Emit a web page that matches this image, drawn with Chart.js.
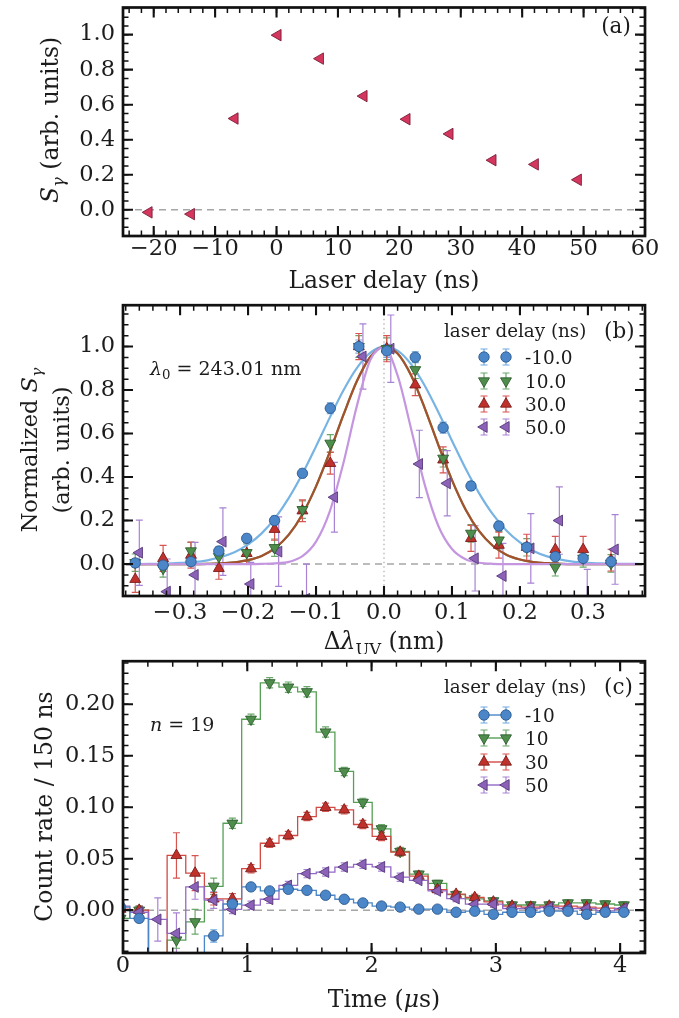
<!DOCTYPE html>
<html>
<head>
<meta charset="utf-8">
<script src="https://cdn.jsdelivr.net/npm/chart.js@4.4.1/dist/chart.umd.min.js"></script>
<style>
  html, body { margin:0; padding:0; background:#ffffff; }
  #wrap { position:relative; width:679px; height:1018px; overflow:hidden; background:#fff; }
  canvas { position:absolute; left:0; }
</style>
</head>
<body>
<div id="wrap">
  <canvas id="chartA" width="679" height="298" style="top:0px;width:679px;height:298px"></canvas>
  <canvas id="chartB" width="679" height="356" style="top:298px;width:679px;height:356px"></canvas>
  <canvas id="chartC" width="679" height="364" style="top:654px;width:679px;height:364px"></canvas>
</div>
<script>
// ---------------- DATA ----------------
// Panel (a)
const delayA  = [-20.8, -13.9, -6.8, 0.2, 7.1, 14.2, 21.2, 28.2, 35.2, 42.1, 49.1];
const signalA = [-0.015, -0.025, 0.521, 0.997, 0.863, 0.649, 0.517, 0.433, 0.283, 0.259, 0.171];
const xTicksA = [-20, -10, 0, 10, 20, 30, 40, 50, 60];
const yTicksA = [0.0, 0.2, 0.4, 0.6, 0.8, 1.0];

// Panel (b)
const seriesNamesB = ['-10.0', '10.0', '30.0', '50.0'];
const dLambda   = [-0.366,-0.325,-0.284,-0.243,-0.202,-0.161,-0.120,-0.079,-0.037,0.004,0.046,0.087,0.128,0.169,0.210,0.252,0.293,0.334];
const dLambda50 = [-0.360,-0.319,-0.278,-0.237,-0.196,-0.155,-0.114,-0.073,-0.031,0.010,0.052,0.093,0.134,0.175,0.216,0.258,0.299,0.340];
const specM10 = [0.005,-0.005,0.011,0.060,0.118,0.200,0.417,0.716,1.000,0.980,0.951,0.627,0.359,0.175,0.077,0.034,0.026,0.011];
const spec10  = [0.006,-0.020,0.060,0.034,0.052,0.075,0.250,0.555,1.000,0.990,0.893,0.486,0.141,0.110,0.077,-0.015,0.026,0.003];
const spec30  = [-0.070,0.026,0.041,-0.020,0.049,0.160,0.245,0.463,1.000,0.990,0.824,0.479,0.118,0.087,0.077,0.067,0.067,0.018];
const spec50  = [0.052,-0.127,-0.050,0.103,-0.092,0.057,-0.160,0.307,0.954,0.990,0.460,0.371,0.026,-0.055,0.072,0.200,-0.180,0.067];
const errBm10 = [0.02,0.02,0.02,0.02,0.02,0.02,0.02,0.025,0.03,0.03,0.025,0.025,0.02,0.02,0.02,0.02,0.02,0.02];
const errB10  = [0.04,0.04,0.04,0.04,0.04,0.04,0.04,0.04,0.05,0.05,0.04,0.04,0.04,0.04,0.04,0.04,0.04,0.04];
const errB30  = [0.06,0.06,0.06,0.05,0.05,0.05,0.05,0.05,0.06,0.06,0.05,0.06,0.06,0.06,0.06,0.06,0.06,0.05];
const errB50  = [0.15,0.15,0.15,0.155,0.10,0.16,0.16,0.16,0.15,0.155,0.155,0.15,0.15,0.15,0.16,0.155,0.155,0.16];
// fitted curves
const xFit = [-0.38,-0.36,-0.34,-0.32,-0.30,-0.28,-0.26,-0.24,-0.22,-0.20,-0.18,-0.16,-0.14,-0.12,-0.10,-0.08,-0.06,-0.04,-0.02,0.00,0.02,0.04,0.06,0.08,0.10,0.12,0.14,0.16,0.18,0.20,0.22,0.24,0.26,0.28,0.30,0.32,0.34,0.36,0.38];
const fitM10 = [0.000,0.000,0.001,0.002,0.005,0.009,0.017,0.032,0.054,0.090,0.141,0.212,0.304,0.415,0.541,0.672,0.797,0.901,0.972,1.000,0.981,0.918,0.820,0.698,0.567,0.439,0.325,0.229,0.154,0.099,0.060,0.035,0.020,0.010,0.005,0.003,0.001,0.001,0.000];
const fit10  = [0,0,0,0,0.000,0.000,0.001,0.003,0.008,0.018,0.037,0.074,0.135,0.229,0.357,0.513,0.683,0.840,0.953,1.000,0.968,0.867,0.716,0.547,0.386,0.251,0.151,0.084,0.043,0.021,0.009,0.004,0.001,0.000,0,0,0,0,0];
const fit30  = [0,0,0,0,0.000,0.000,0.001,0.003,0.008,0.018,0.037,0.074,0.135,0.229,0.357,0.513,0.683,0.840,0.953,1.000,0.968,0.867,0.716,0.547,0.386,0.251,0.151,0.084,0.043,0.021,0.009,0.004,0.001,0.000,0,0,0,0,0];
const fit50  = [0,0,0,0,0,0,0,0,0,0.000,0.001,0.003,0.010,0.036,0.103,0.240,0.461,0.726,0.939,0.996,0.867,0.620,0.364,0.175,0.069,0.022,0.006,0.001,0.000,0,0,0,0,0,0,0,0,0,0];
const xTicksB = [-0.3, -0.2, -0.1, 0.0, 0.1, 0.2, 0.3];
const yTicksB = [0.0, 0.2, 0.4, 0.6, 0.8, 1.0];

// Panel (c)
const seriesNamesC = ['-10', '10', '30', '50'];
const tBins = [-0.02,0.13,0.28,0.43,0.58,0.73,0.88,1.03,1.18,1.33,1.48,1.63,1.78,1.93,2.08,2.23,2.38,2.53,2.68,2.83,2.98,3.13,3.28,3.43,3.58,3.73,3.88,4.03];
const rateM10 = [0.003,-0.008,-0.060,-0.080,-0.060,-0.025,0.006,0.0226,0.0187,0.0203,0.0193,0.0145,0.0106,0.007,0.004,0.003,0.001,0.001,-0.002,-0.001,-0.004,-0.002,-0.002,-0.001,-0.001,-0.004,-0.002,-0.002];
const rate10  = [-0.008,0.000,-0.060,-0.029,-0.0113,0.0232,0.0844,0.1854,0.2208,0.2166,0.2121,0.173,0.1347,0.1047,0.079,0.057,0.035,0.026,0.015,0.011,0.009,0.005,0.005,0.005,0.007,0.007,0.006,0.005];
const rate30  = [0.001,0.000,-0.080,0.0532,0.036,0.011,0.011,0.0403,0.065,0.0725,0.0909,0.0999,0.0974,0.0832,0.0716,0.0564,0.033,0.020,0.0155,0.0123,0.008,0.004,0.003,0.004,0.004,0.003,0.002,0.001];
const rate50  = [0.004,-0.002,-0.009,-0.0226,0.0226,0.0097,0.0007,0.0048,0.0106,0.024,0.0355,0.037,0.0419,0.0445,0.042,0.032,0.029,0.0187,0.0113,0.0058,0.0058,0.0016,0.0016,0.0026,0.0016,0.0016,-0.0006,0.0016];
const errCm10 = [0.004,0.004,0.008,0.008,0.008,0.006,0.004,0.003,0.003,0.003,0.003,0.003,0.003,0.002,0.002,0.002,0.002,0.002,0.002,0.002,0.002,0.002,0.002,0.002,0.002,0.002,0.002,0.002];
const errC10  = [0.004,0.004,0.012,0.008,0.012,0.008,0.005,0.005,0.005,0.005,0.005,0.005,0.004,0.004,0.004,0.004,0.003,0.003,0.003,0.003,0.003,0.003,0.003,0.003,0.003,0.003,0.003,0.003];
const errC30  = [0.004,0.004,0.020,0.022,0.017,0.006,0.005,0.004,0.004,0.004,0.004,0.004,0.004,0.004,0.004,0.004,0.003,0.003,0.003,0.003,0.003,0.003,0.003,0.003,0.003,0.003,0.003,0.003];
const errC50  = [0.006,0.006,0.021,0.020,0.012,0.008,0.004,0.004,0.004,0.004,0.004,0.004,0.004,0.004,0.004,0.004,0.003,0.003,0.003,0.003,0.003,0.003,0.003,0.003,0.003,0.003,0.003,0.003];
const xTicksC = [0, 1, 2, 3, 4];
const yTicksC = [0.00, 0.05, 0.10, 0.15, 0.20];

// ---------------- STYLE ----------------
const FONT = "'DejaVu Serif','Liberation Serif',serif";
const INK = '#1c1c1c';
const TICK_SIZE = 22.5;
const STY = {
  m10: { fill:'#4a86c8', edge:'#2c5a8e', err:'#6ea8e0', line:'#4a86c8', fit:'#78b4e3', shape:'circle', rot:0, r:5.2 },
  p10: { fill:'#4e8d4c', edge:'#2f5e2e', err:'#6aa86a', line:'#56a056', fit:'#5f9450', shape:'triangle', rot:180, r:6.3 },
  p30: { fill:'#c0312c', edge:'#7a1c1a', err:'#d65550', line:'#d24a44', fit:'rgba(176,72,40,0.88)', shape:'triangle', rot:0, r:6.3 },
  p50: { fill:'#8c62b8', edge:'#573a7a', err:'#a883d4', line:'#9468c6', fit:'#c596e0', shape:'triangle', rot:270, r:6.3 }
};

Chart.defaults.font.family = FONT;
Chart.defaults.color = INK;

const pts = (xs, ys) => xs.map((x, i) => ({ x: x, y: ys[i] }));
const fmtNum = d => v => (v < -1e-9 ? '\u2212' + Math.abs(v).toFixed(d) : Math.abs(v).toFixed(d));

function axisX(min, max, ticksArr, fmt, pad, h) {
  return {
    type: 'linear', min: min, max: max,
    grid: { display: false, drawTicks: false }, border: { display: false },
    ticks: { font: { family: FONT, size: TICK_SIZE }, color: INK, padding: pad, maxRotation: 0, autoSkip: false, callback: fmt },
    afterBuildTicks: s => { s.ticks = ticksArr.map(v => ({ value: v })); },
    afterFit: s => { s.height = h; s.paddingLeft = 0; s.paddingRight = 0; s.paddingTop = 0; s.paddingBottom = 0; }
  };
}
function axisY(min, max, ticksArr, fmt, pad, w) {
  return {
    type: 'linear', min: min, max: max,
    grid: { display: false, drawTicks: false }, border: { display: false },
    ticks: { font: { family: FONT, size: TICK_SIZE }, color: INK, padding: pad, autoSkip: false, callback: fmt },
    afterBuildTicks: s => { s.ticks = ticksArr.map(v => ({ value: v })); },
    afterFit: s => { s.width = w; s.paddingLeft = 0; s.paddingRight = 0; s.paddingTop = 0; s.paddingBottom = 0; }
  };
}

function markerPath(ctx, shape, x, y, r, rot) {
  ctx.beginPath();
  if (shape === 'circle') { ctx.arc(x, y, r, 0, Math.PI * 2); }
  else {
    let rad = rot * Math.PI / 180;
    for (let k = 0; k < 3; k++) {
      const px = x + Math.sin(rad) * r, py = y - Math.cos(rad) * r;
      if (k) ctx.lineTo(px, py); else ctx.moveTo(px, py);
      rad += 2 * Math.PI / 3;
    }
    ctx.closePath();
  }
}

function richText(ctx, x, y, segs, size, align, rot) {
  ctx.save();
  ctx.translate(x, y);
  if (rot) ctx.rotate(rot);
  const parts = segs.map(s => {
    const sz = s.sub ? size * 0.7 : size;
    const font = (s.it ? 'italic ' : '') + sz.toFixed(1) + 'px ' + FONT;
    ctx.font = font;
    return { t: s.t, font: font, w: ctx.measureText(s.t).width, dy: s.sub ? size * 0.22 : 0 };
  });
  const total = parts.reduce((a, p) => a + p.w, 0);
  let cx = align === 'center' ? -total / 2 : (align === 'right' ? -total : 0);
  ctx.fillStyle = INK; ctx.textBaseline = 'alphabetic'; ctx.textAlign = 'left';
  const base = size * 0.36;
  parts.forEach(p => { ctx.font = p.font; ctx.fillText(p.t, cx, base + p.dy); cx += p.w; });
  ctx.restore();
}

function multiples(min, max, step) {
  const out = [];
  const s = Math.ceil(min / step - 1e-9), e = Math.floor(max / step + 1e-9);
  for (let i = s; i <= e; i++) out.push(i * step);
  return out;
}

function drawFrame(chart, spec) {
  const { ctx, chartArea: a, scales: { x, y } } = chart;
  ctx.save();
  ctx.strokeStyle = '#111';
  const drawX = (vals, len, lw) => {
    ctx.lineWidth = lw; ctx.beginPath();
    vals.forEach(v => { const p = x.getPixelForValue(v);
      ctx.moveTo(p, a.bottom); ctx.lineTo(p, a.bottom - len);
      ctx.moveTo(p, a.top); ctx.lineTo(p, a.top + len); });
    ctx.stroke();
  };
  const drawY = (vals, len, lw) => {
    ctx.lineWidth = lw; ctx.beginPath();
    vals.forEach(v => { const p = y.getPixelForValue(v);
      ctx.moveTo(a.left, p); ctx.lineTo(a.left + len, p);
      ctx.moveTo(a.right, p); ctx.lineTo(a.right - len, p); });
    ctx.stroke();
  };
  drawX(multiples(x.min, x.max, spec.xMinor), 5.5, 1.5);
  drawY(multiples(y.min, y.max, spec.yMinor), 5.5, 1.5);
  drawX(spec.xMajor, 10, 2.1);
  drawY(spec.yMajor, 10, 2.1);
  ctx.lineWidth = 2.7;
  ctx.strokeRect(a.left, a.top, a.right - a.left, a.bottom - a.top);
  ctx.restore();
}

function underlay(chart, opts) {
  const { ctx, chartArea: a, scales: { x, y } } = chart;
  ctx.save();
  ctx.beginPath(); ctx.rect(a.left, a.top, a.right - a.left, a.bottom - a.top); ctx.clip();
  const y0 = y.getPixelForValue(0);
  ctx.strokeStyle = '#a6a6a6'; ctx.lineWidth = 1.5; ctx.setLineDash([7, 5]);
  ctx.beginPath(); ctx.moveTo(a.left, y0); ctx.lineTo(a.right, y0); ctx.stroke();
  if (opts && opts.vline) {
    const x0 = x.getPixelForValue(0);
    ctx.strokeStyle = '#b4b4b4'; ctx.lineWidth = 1.3; ctx.setLineDash([1.5, 3]);
    ctx.beginPath(); ctx.moveTo(x0, a.top); ctx.lineTo(x0, a.bottom); ctx.stroke();
  }
  ctx.setLineDash([]);
  chart.data.datasets.forEach(ds => {
    if (!ds.errors) return;
    ctx.strokeStyle = ds.errorColor; ctx.lineWidth = 1.2;
    ctx.beginPath();
    ds.data.forEach((p, j) => {
      const e = ds.errors[j]; if (!e) return;
      const px = x.getPixelForValue(p.x);
      const y1 = y.getPixelForValue(p.y - e), y2 = y.getPixelForValue(p.y + e);
      ctx.moveTo(px, y1); ctx.lineTo(px, y2);
      ctx.moveTo(px - 3.5, y1); ctx.lineTo(px + 3.5, y1);
      ctx.moveTo(px - 3.5, y2); ctx.lineTo(px + 3.5, y2);
    });
    ctx.stroke();
  });
  ctx.restore();
}

function drawLegend(ctx, off, L) {
  richText(ctx, L.titleX, L.titleY - off, [{ t: 'laser delay (ns)' }], 18.3, 'left');
  richText(ctx, L.tagX, L.titleY - off, [{ t: L.tag }], 21.5, 'left');
  L.keys.forEach((k, i) => {
    const s = STY[k];
    const yy = L.rows[i] - off;
    ctx.save();
    if (L.withLine) {
      ctx.strokeStyle = s.line; ctx.lineWidth = 1.4;
      ctx.beginPath(); ctx.moveTo(L.x1, yy); ctx.lineTo(L.x2, yy); ctx.stroke();
    }
    [L.x1, L.x2].forEach(xx => {
      ctx.strokeStyle = s.err; ctx.lineWidth = 1.2;
      ctx.beginPath();
      ctx.moveTo(xx, yy - 8); ctx.lineTo(xx, yy + 8);
      ctx.moveTo(xx - 3.5, yy - 8); ctx.lineTo(xx + 3.5, yy - 8);
      ctx.moveTo(xx - 3.5, yy + 8); ctx.lineTo(xx + 3.5, yy + 8);
      ctx.stroke();
      markerPath(ctx, s.shape, xx, yy, s.r, s.rot);
      ctx.fillStyle = s.fill; ctx.fill();
      ctx.strokeStyle = s.edge; ctx.lineWidth = 0.9; ctx.stroke();
    });
    ctx.restore();
    richText(ctx, L.textX, yy, [{ t: L.names[i] }], 18.5, 'left');
  });
}

function markerDS(xs, ys, errs, key, extra) {
  const s = STY[key];
  return Object.assign({
    data: pts(xs, ys), errors: errs, errorColor: s.err,
    showLine: false, pointStyle: s.shape, rotation: s.rot, pointRadius: s.r,
    pointBackgroundColor: s.fill, pointBorderColor: s.edge, pointBorderWidth: 0.9,
    borderColor: s.line, order: 0
  }, extra || {});
}
function fitDS(ys, key, color) {
  return {
    data: pts(xFit, ys), showLine: true, pointRadius: 0, borderColor: color || STY[key].fit,
    borderWidth: 2.2, cubicInterpolationMode: 'monotone', fill: false, order: 5
  };
}

const common = {
  type: 'line',
  options: { responsive: false, animation: false, devicePixelRatio: 1, events: [],
    plugins: { legend: { display: false }, tooltip: { enabled: false }, title: { display: false } } }
};

// ---------------- PANEL (a) ----------------
new Chart(document.getElementById('chartA'), {
  type: 'line',
  data: { datasets: [{
    data: pts(delayA, signalA), showLine: false, pointStyle: 'triangle', rotation: 270, pointRadius: 6.6,
    pointBackgroundColor: '#d4365e', pointBorderColor: '#7a1d38', pointBorderWidth: 0.9
  }] },
  options: Object.assign({}, common.options, {
    layout: { padding: { left: 0, right: 34, top: 4, bottom: 0 } },
    scales: { x: axisX(-25, 60, xTicksA, fmtNum(0), 0, 62), y: axisY(-0.15, 1.155, yTicksA, fmtNum(1), 8, 123) }
  }),
  plugins: [{
    id: 'decoA',
    beforeDatasetsDraw: c => underlay(c, {}),
    afterDraw: c => {
      drawFrame(c, { xMajor: xTicksA, xMinor: 2, yMajor: yTicksA, yMinor: 0.05 });
      const ctx = c.ctx;
      richText(ctx, 50, 120, [{ t: 'S', it: true }, { t: '\u03b3', it: true, sub: true }, { t: ' (arb. units)' }], 23.5, 'center', -Math.PI / 2);
      richText(ctx, 384, 280, [{ t: 'Laser delay (ns)' }], 23.5, 'center');
      richText(ctx, 616, 25, [{ t: '(a)' }], 21.5, 'center');
    }
  }]
});

// ---------------- PANEL (b) ----------------
const offB = 298;
new Chart(document.getElementById('chartB'), {
  type: 'line',
  data: { datasets: [
    markerDS(dLambda, specM10, errBm10, 'm10'),
    markerDS(dLambda, spec10, errB10, 'p10'),
    markerDS(dLambda, spec30, errB30, 'p30'),
    markerDS(dLambda50, spec50, errB50, 'p50'),
    fitDS(fitM10, 'm10'),
    fitDS(fit10, 'p10'),
    Object.assign(fitDS(fit30, 'p30'), { order: 4 }),
    Object.assign(fitDS(fit50, 'p50'), { order: 3 })
  ] },
  options: Object.assign({}, common.options, {
    layout: { padding: { left: 0, right: 34, top: 6, bottom: 0 } },
    scales: { x: axisX(-0.384, 0.384, xTicksB, fmtNum(1), 4, 58), y: axisY(-0.147, 1.19, yTicksB, fmtNum(1), 8, 123) }
  }),
  plugins: [{
    id: 'decoB',
    beforeDatasetsDraw: c => underlay(c, { vline: true }),
    afterDraw: c => {
      drawFrame(c, { xMajor: xTicksB, xMinor: 0.02, yMajor: yTicksB, yMinor: 0.05 });
      const ctx = c.ctx;
      richText(ctx, 28.6, 450 - offB, [{ t: 'Normalized ' }, { t: 'S', it: true }, { t: '\u03b3', it: true, sub: true }], 22.5, 'center', -Math.PI / 2);
      richText(ctx, 60.6, 450 - offB, [{ t: '(arb. units)' }], 22.5, 'center', -Math.PI / 2);
      richText(ctx, 384, 641 - offB, [{ t: '\u0394' }, { t: '\u03bb', it: true }, { t: 'UV', sub: true }, { t: ' (nm)' }], 23.5, 'center');
      richText(ctx, 150, 368 - offB, [{ t: '\u03bb', it: true }, { t: '0', sub: true }, { t: ' = 243.01 nm' }], 19, 'left');
      drawLegend(ctx, offB, { titleX: 444, titleY: 330, tagX: 604, tag: '(b)', rows: [357, 381, 404, 427],
        x1: 484, x2: 506, textX: 525, keys: ['m10', 'p10', 'p30', 'p50'], names: seriesNamesB, withLine: false });
    }
  }]
});

// ---------------- PANEL (c) ----------------
const offC = 654;
function stepDS(ys, errs, key) {
  const s = STY[key];
  return markerDS(tBins, ys, errs, key, { showLine: true, stepped: 'middle', borderColor: s.line, borderWidth: 1.3, fill: false });
}
new Chart(document.getElementById('chartC'), {
  type: 'line',
  data: { datasets: [
    stepDS(rateM10, errCm10, 'm10'),
    stepDS(rate50, errC50, 'p50'),
    stepDS(rate30, errC30, 'p30'),
    stepDS(rate10, errC10, 'p10')
  ] },
  options: Object.assign({}, common.options, {
    layout: { padding: { left: 0, right: 34, top: 6, bottom: 0 } },
    scales: { x: axisX(0, 4.2, xTicksC, fmtNum(0), 0, 65), y: axisY(-0.0416, 0.2418, yTicksC, fmtNum(2), 8, 123) }
  }),
  plugins: [{
    id: 'decoC',
    beforeDatasetsDraw: c => underlay(c, {}),
    afterDraw: c => {
      drawFrame(c, { xMajor: xTicksC, xMinor: 0.2, yMajor: yTicksC, yMinor: 0.01 });
      const ctx = c.ctx;
      richText(ctx, 44, 806.5 - offC, [{ t: 'Count rate / 150 ns' }], 23.5, 'center', -Math.PI / 2);
      richText(ctx, 384, 999 - offC, [{ t: 'Time (' }, { t: '\u03bc', it: true }, { t: 's)' }], 23.5, 'center');
      richText(ctx, 150, 724 - offC, [{ t: 'n', it: true }, { t: ' = 19' }], 19, 'left');
      drawLegend(ctx, offC, { titleX: 444, titleY: 686, tagX: 604, tag: '(c)', rows: [715, 738, 762, 785],
        x1: 484, x2: 506, textX: 525, keys: ['m10', 'p10', 'p30', 'p50'], names: seriesNamesC, withLine: true });
    }
  }]
});
</script>
</body>
</html>
